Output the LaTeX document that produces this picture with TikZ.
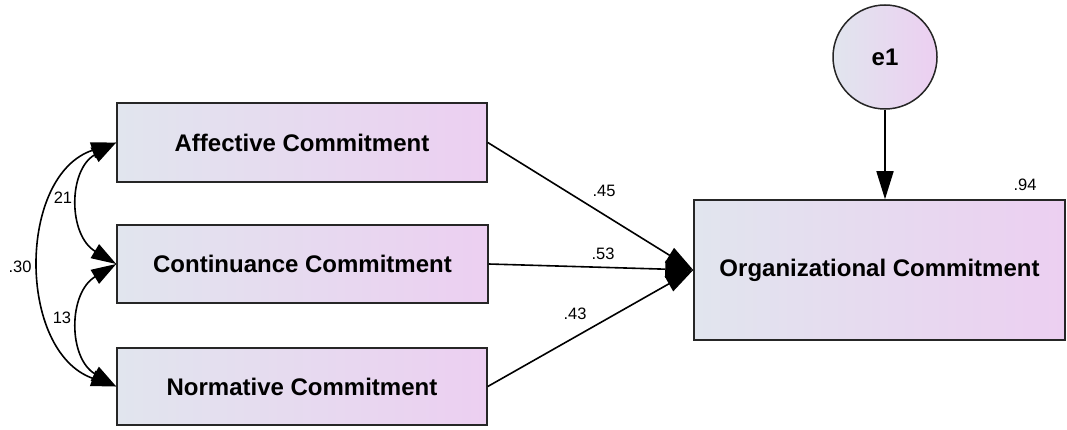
\documentclass[tikz,border=0pt]{standalone}
\usepackage{fontspec}
\setmainfont{Liberation Sans}
\usetikzlibrary{arrows.meta}
\definecolor{gL}{HTML}{E1E5EE}
\definecolor{gR}{HTML}{ECCFF1}
\tikzset{
  var/.style={draw=black!85, line width=1.5pt, left color=gL, right color=gR, font=\fontsize{24}{28}\selectfont\bfseries, inner sep=0pt},
  err/.style={circle, draw=black!85, line width=1.5pt, left color=gL, right color=gR, font=\fontsize{24}{28}\selectfont\bfseries, minimum size=104pt, inner sep=0pt},
  pathar/.style={line width=1.6pt, -{Triangle[length=28pt,width=17pt]}},
  covar/.style={line width=1.6pt, {Triangle[length=25pt,width=16pt]}-{Triangle[length=25pt,width=16pt]}},
  lab/.style={font=\fontsize{16.5}{19}\selectfont, inner sep=0pt}
}
\begin{document}
\begin{tikzpicture}[x=1pt,y=-1pt]
\useasboundingbox (0,0) rectangle (1067,430);
\node[var, minimum width=370pt, minimum height=79pt] (aff) at (302,142.5) {Affective Commitment};
\node[var, minimum width=371pt, minimum height=78pt] (con) at (302.5,264) {Continuance Commitment};
\node[var, minimum width=370pt, minimum height=77pt] (nor) at (302,386.5) {Normative Commitment};
\node[var, minimum width=371pt, minimum height=140pt] (org) at (879.5,270) {Organizational Commitment};
\node[err] (e1) at (885,57) {e1};

\draw[pathar] (e1.south) -- (org.north -| e1.south);
\draw[pathar] (aff.east) -- (org.west);
\draw[pathar] (con.east) -- (org.west);
\draw[pathar] (nor.east) -- (org.west);

\draw[covar] (aff.west) .. controls (68,170) and (68,235) .. (con.west);
\draw[covar] (con.west) .. controls (68,293) and (68,358) .. (nor.west);
\draw[covar] (aff.west) .. controls (17,175) and (17,352) .. (nor.west);

\node[lab] (l21) at (63,198) {21};
\node[lab] (l13) at (62,318) {13};
\node[lab] (l30) at (20,267) {.30};
\node[lab] (l45) at (604,191) {.45};
\node[lab] (l53) at (603,254) {.53};
\node[lab] (l43) at (575,314) {.43};
\node[lab] (l94) at (1025,185) {.94};
\end{tikzpicture}
\end{document}
